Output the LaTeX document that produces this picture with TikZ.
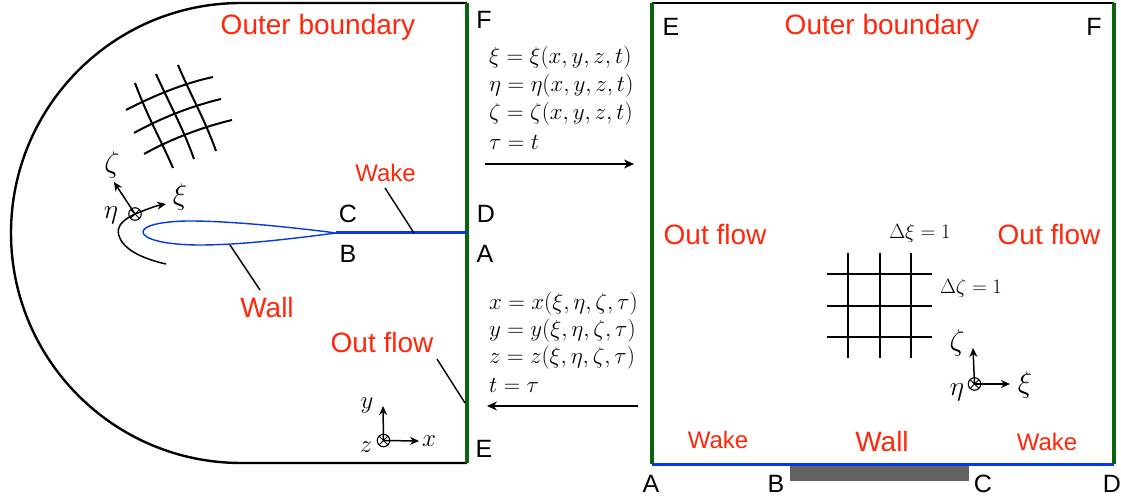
\documentclass[tikz,border=0pt]{standalone}
\usepackage{graphicx}
\usepackage{fontspec}
\setmainfont{Liberation Sans}
\usetikzlibrary{arrows.meta}
\definecolor{lblred}{RGB}{255,38,10}
\definecolor{bgreen}{RGB}{10,100,10}
\definecolor{bblue}{RGB}{5,55,235}
\definecolor{wallgray}{RGB}{98,98,98}
\newcommand{\bigmath}[1]{\fontsize{18}{27}\selectfont\scalebox{1.333}{$#1$}}
\newcommand{\midmath}[1]{\fontsize{18}{27}\selectfont\scalebox{1.19}{$#1$}}
\newcommand{\symm}[1]{\fontsize{24}{28}\selectfont\scalebox{1.2}{$#1$}}
\newcommand{\symn}[1]{\fontsize{24}{28}\selectfont\scalebox{1.1}{$#1$}}
\newcommand{\syms}[1]{\fontsize{24}{28}\selectfont\scalebox{1.0}{$#1$}}
\tikzset{
  lbl/.style={text=lblred,font=\fontsize{28}{32}\selectfont,inner sep=0pt},
  lblsmall/.style={text=lblred,font=\fontsize{24}{28}\selectfont,inner sep=0pt},
  pt/.style={text=black,font=\fontsize{25}{29}\selectfont,inner sep=0pt},
  eq/.style={anchor=west,inner sep=0pt,text=black},
  sym/.style={inner sep=0pt,text=black},
  gridline/.style={black,line width=2pt},
  outer/.style={black,line width=2.4pt},
  gbound/.style={bgreen,line width=3.2pt},
  bbound/.style={bblue,line width=3pt},
  leader/.style={black,line width=1.4pt},
  axis/.style={black,line width=1.5pt,-{Stealth[length=9pt,width=8pt]}},
  otimes/.style={circle,draw=black,line width=1.1pt,minimum size=12.5pt,inner sep=0pt,
    path picture={\draw[black,line width=.8pt]
      (path picture bounding box.north west)--(path picture bounding box.south east)
      (path picture bounding box.north east)--(path picture bounding box.south west);}},
  bigarrow/.style={black,line width=1.5pt,-{Stealth[length=10pt,width=9pt]}},
}
\begin{document}
\begin{tikzpicture}[x=1pt,y=-1pt]
\useasboundingbox (0,0) rectangle (1121,502);
% ---------- left domain
\coordinate (LF) at (467,3);
\coordinate (LE) at (467,463);
\coordinate (LTop) at (241,3);
\coordinate (LBot) at (241,463);
\coordinate (LA) at (467,233);
\coordinate (TE) at (336,233);
\draw[outer] (LE) -- (LBot) .. controls (114,463) and (11,360) .. (11,233)
   .. controls (11,106) and (114,3) .. (LTop) -- (LF);
\draw[gbound] (LF) -- (LE);
\draw[bbound] (TE) -- (LA);
\draw[bblue,line width=1.4pt] (TE) .. controls (290,227) and (230,221) .. (190,221)
   .. controls (165,221) and (143,225) .. (143,232)
   .. controls (143,239) and (165,245) .. (200,245)
   .. controls (240,245) and (290,239) .. (TE);
% curved mesh
\draw[gridline] (135,83) .. controls (148,118) and (160,138) .. (173,168);
\draw[gridline] (156,74) .. controls (170,105) and (183,128) .. (194,159);
\draw[gridline] (178,65) .. controls (192,98) and (205,120) .. (216,151);
\draw[gridline] (126,110) .. controls (155,95) and (185,83) .. (213,77);
\draw[gridline] (134,133) .. controls (163,117) and (192,106) .. (221,99);
\draw[gridline] (144,154) .. controls (173,138) and (203,127) .. (232,120);
% left curvilinear axes
\node[otimes] (LOrig) at (135,214) {};
\coordinate (LZeta) at (114,182);
\coordinate (LXi) at (166,204);
\coordinate (LEtaEnd) at (166,264);
\draw[axis] (LOrig.center) -- (LZeta);
\draw[axis] (LOrig.center) .. controls (145,210) and (155,206) .. (LXi);
\draw[black,line width=1.5pt] (LOrig.center) .. controls (112,225) and (118,235) .. (122,242)
   .. controls (130,253) and (148,260) .. (LEtaEnd);
\node[sym] (lz) at (112,165) {\symm{\zeta}};
\node[sym] (lx) at (180,197) {\symm{\xi}};
\node[sym] (le) at (111,215) {\symn{\eta}};
% labels left
\node[lbl] (lOuter) at (318,27) {Outer boundary};
\node[lblsmall] (lWake) at (385.5,173) {Wake};
\node[lbl] (lWall) at (267,307) {Wall};
\node[lbl] (lOut) at (382,342) {Out flow};
\coordinate (WakeFoot) at (414,233);
\coordinate (WakeTop) at (385,188);
\coordinate (WallFoot) at (230,245);
\coordinate (WallBot) at (260,290);
\coordinate (OutTop) at (437,359);
\coordinate (OutFoot) at (465,403);
\draw[leader] (WakeTop) -- (WakeFoot);
\draw[leader] (WallFoot) -- (WallBot);
\draw[leader] (OutTop) -- (OutFoot);
\node[pt] (lF) at (484,20) {F};
\node[pt] (lD) at (486,214) {D};
\node[pt] (lA) at (485,254) {A};
\node[pt] (lC) at (348,214) {C};
\node[pt] (lB) at (348,254) {B};
\node[pt] (lEE) at (484,449) {E};
% xyz axes
\node[otimes] (XOrig) at (383.5,440.5) {};
\coordinate (XY) at (383,406);
\coordinate (XX) at (419,441);
\draw[axis] (XOrig.center) -- (XY);
\draw[axis] (XOrig.center) -- (XX);
\node[sym] (ly) at (367,406) {\syms{y}};
\node[sym] (lx2) at (429,441) {\syms{x}};
\node[sym] (lz2) at (366,447) {\syms{z}};
% ---------- equations
\node[eq] (e1) at (489,58) {\bigmath{\xi=\xi(x,y,z,t)}};
\node[eq] (e2) at (489,86) {\bigmath{\eta=\eta(x,y,z,t)}};
\node[eq] (e3) at (489,114) {\bigmath{\zeta=\zeta(x,y,z,t)}};
\node[eq] (e4) at (489,142) {\bigmath{\tau=t}};
\node[eq] (f1) at (489,304) {\bigmath{x=x(\xi,\eta,\zeta,\tau)}};
\node[eq] (f2) at (489,331) {\bigmath{y=y(\xi,\eta,\zeta,\tau)}};
\node[eq] (f3) at (489,358) {\bigmath{z=z(\xi,\eta,\zeta,\tau)}};
\node[eq] (f4) at (489,385) {\bigmath{t=\tau}};
\coordinate (A1s) at (485,164);
\coordinate (A1e) at (634,164);
\coordinate (A2s) at (638,406);
\coordinate (A2e) at (487,406);
\draw[bigarrow] (A1s) -- (A1e);
\draw[bigarrow] (A2s) -- (A2e);
% ---------- right domain
\coordinate (RTL) at (652,3);
\coordinate (RTR) at (1114,3);
\coordinate (RBL) at (652,464);
\coordinate (RBR) at (1114,464);
\draw[outer] (RTL) -- (RTR);
\draw[gbound] (RTL) -- (RBL);
\draw[gbound] (RTR) -- (RBR);
\draw[bbound] (RBL) -- (RBR);
\fill[wallgray] (790,465.5) rectangle (969,481);
% mesh
\foreach \vx in {848,880,911} \draw[gridline] (\vx,253) -- (\vx,358);
\foreach \hy in {274,306,337} \draw[gridline] (827,\hy) -- (932,\hy);
\node[eq,anchor=center] (dxi) at (920,233) {\midmath{\Delta\xi=1}};
\node[eq,anchor=center] (dze) at (971,288) {\midmath{\Delta\zeta=1}};
% right axes
\node[otimes] (ROrig) at (974.5,384) {};
\coordinate (RZ) at (973,348);
\coordinate (RX) at (1010,384);
\draw[axis] (ROrig.center) -- (RZ);
\draw[axis] (ROrig.center) -- (RX);
\node[sym] (rz) at (957,343) {\symm{\zeta}};
\node[sym] (rx) at (1025,385) {\symm{\xi}};
\node[sym] (re) at (957,392) {\symn{\eta}};
% labels right
\node[lbl] (rOuter) at (882,27) {Outer boundary};
\node[lbl] (rOutL) at (715,234) {Out flow};
\node[lbl] (rOutR) at (1049,234) {Out flow};
\node[lblsmall] (rWakeL) at (718,440) {Wake};
\node[lbl] (rWall) at (882,441) {Wall};
\node[lblsmall] (rWakeR) at (1047,442) {Wake};
\node[pt] (rE) at (671,27) {E};
\node[pt] (rF) at (1094,27) {F};
\node[pt] (rA) at (651,484) {A};
\node[pt] (rB) at (776,484) {B};
\node[pt] (rC) at (983,484) {C};
\node[pt] (rD) at (1112,484) {D};
\end{tikzpicture}
\end{document}
